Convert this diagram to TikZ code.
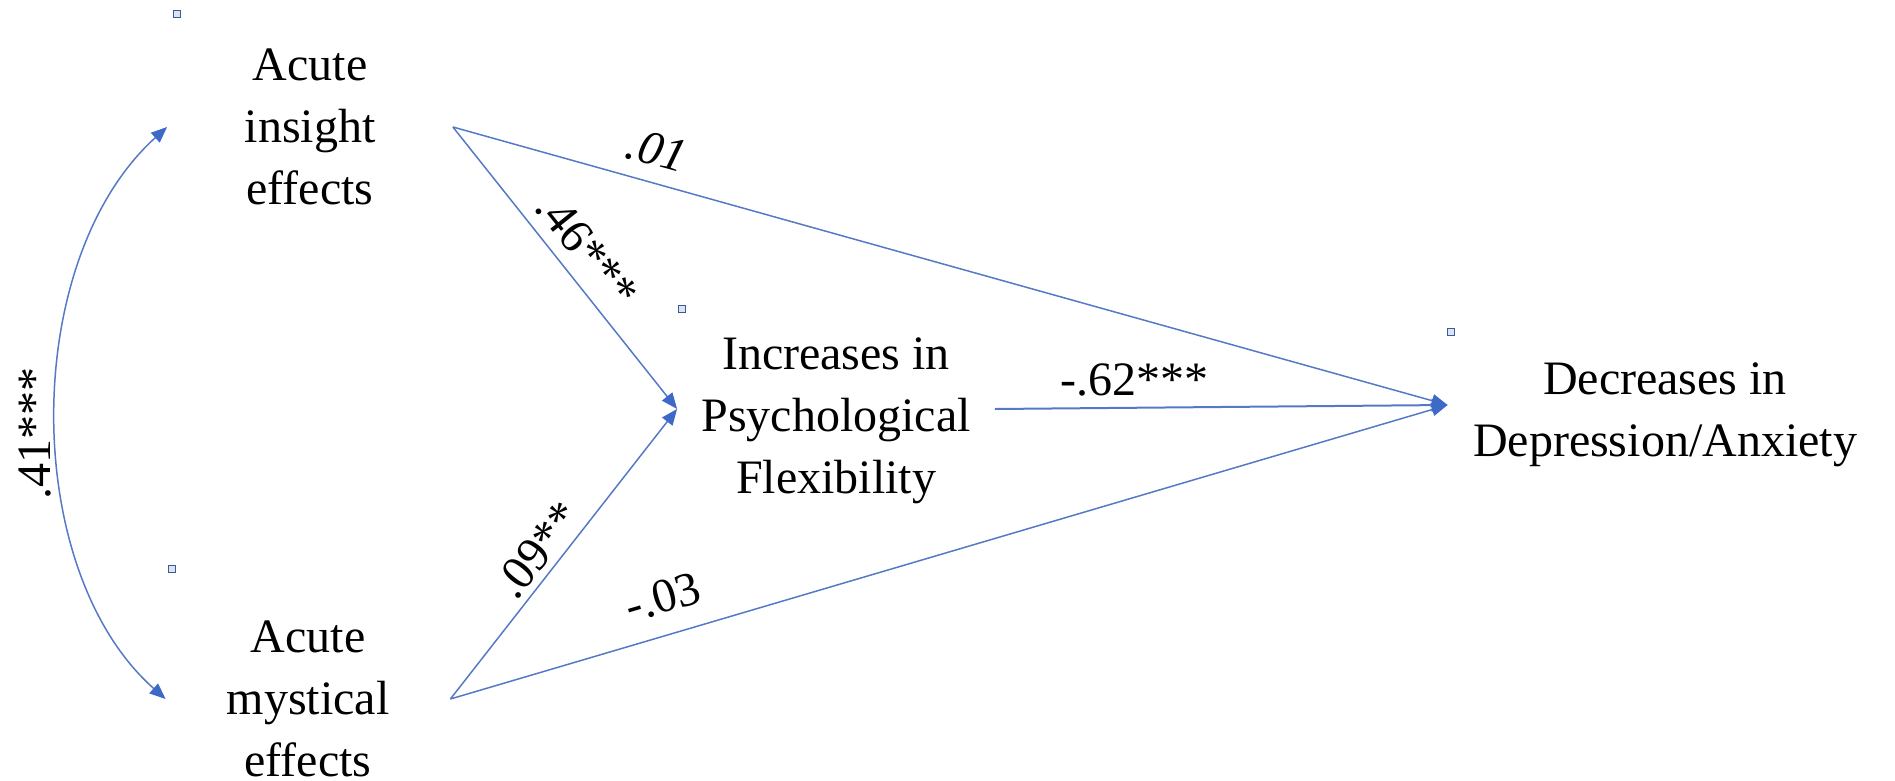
\documentclass[tikz,border=0pt]{standalone}
\usepackage{fontspec}
\setmainfont{Liberation Serif}
\usetikzlibrary{arrows.meta}
\definecolor{linecol}{HTML}{5679C6}
\definecolor{headcol}{HTML}{3D69C8}
\definecolor{sqdraw}{HTML}{3A5A9C}
\definecolor{sqfill}{HTML}{DCE4F4}
\begin{document}
\begin{tikzpicture}[x=0.5pt,y=-0.5pt,
  var/.style={font=\fontsize{24}{31}\selectfont, align=center, inner sep=0pt},
  lbl/.style={font=\fontsize{24}{31}\selectfont, inner sep=0pt},
  conn/.style={draw=linecol, line width=0.75pt, -{Triangle[length=8pt,width=6.5pt,fill=headcol,color=headcol]}},
  dbl/.style={draw=linecol, line width=0.75pt, {Triangle[length=8pt,width=6.5pt,fill=headcol,color=headcol]}-{Triangle[length=8pt,width=6.5pt,fill=headcol,color=headcol]}},
  sq/.style={draw=sqdraw, fill=sqfill, line width=0.7pt, minimum size=3.5pt, inner sep=0pt}]
\useasboundingbox (0,0) rectangle (1895,781);
% variables
\node[var, minimum width=142.5pt] (insight) at (310,127) {Acute\\insight\\effects};
\node[var, minimum width=142pt] (mystical) at (308,699) {Acute\\mystical\\effects};
\node[var, minimum width=158.5pt] (flex) at (836,421) {Increases in\\Psychological\\Flexibility};
\node[var, minimum width=217pt] (dep) at (1665,415) {Decreases in\\Depression/Anxiety};
% small squares
\node[sq] (s1) at (177,14) {};
\node[sq] (s2) at (172,569) {};
\node[sq] (s3) at (682,309) {};
\node[sq] (s4) at (1451,332) {};
% connectors
\draw[dbl] (insight.west) .. controls (20,260) and (20,570) .. (mystical.west);
\draw[conn] (insight.east) -- ([yshift=6pt]flex.west);
\draw[conn] (mystical.east) -- ([yshift=6pt]flex.west);
\draw[conn] (insight.east) -- ([yshift=5pt]dep.west);
\draw[conn] (mystical.east) -- ([yshift=5pt]dep.west);
\draw[conn, line width=1pt] ([yshift=6pt]flex.east) -- ([yshift=5pt]dep.west);
% labels
\node[lbl, rotate=90] (l41) at (35,433) {.41***};
\node[lbl, rotate=-15.5] (l01) at (657,150) {\itshape .01};
\node[lbl, rotate=-51.3] (l46) at (587,250) {.46***};
\node[lbl, rotate=51.3] (l09) at (538,550) {.09**};
\node[lbl, rotate=16.3] (l03) at (663,597) {-.03};
\node[lbl] (l62) at (1134,380) {-.62***};
\end{tikzpicture}
\end{document}
